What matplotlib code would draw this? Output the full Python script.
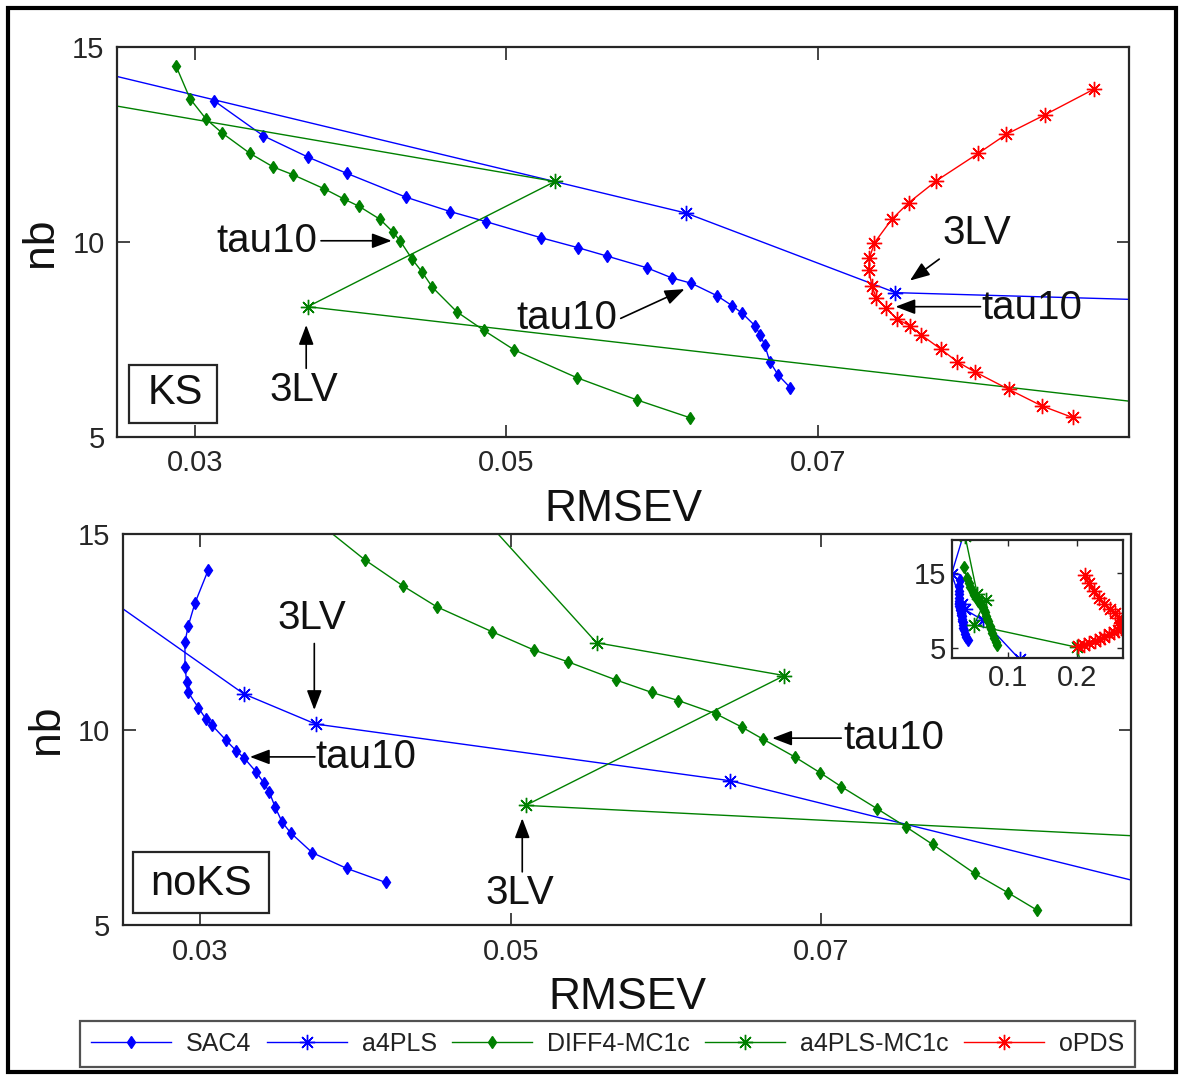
import matplotlib
matplotlib.use("Agg")
import matplotlib.pyplot as plt
from matplotlib.patches import Rectangle

plt.rcParams['font.family'] = ['Liberation Sans', 'DejaVu Sans']

# ---------------- KS (top panel) ----------------
ks_sac4_x = [0.03123, 0.03440, 0.03729, 0.03975, 0.04354, 0.04639, 0.04870, 0.05221,
             0.05463, 0.05645, 0.05901, 0.06062, 0.06189, 0.06354, 0.06449, 0.06516,
             0.06598, 0.06631, 0.06660, 0.06693, 0.06746, 0.06825]
ks_sac4_y = [13.62, 12.72, 12.17, 11.76, 11.15, 10.78, 10.52, 10.11,
             9.85, 9.64, 9.34, 9.08, 8.94, 8.62, 8.37, 8.17,
             7.85, 7.62, 7.36, 6.93, 6.59, 6.26]

ks_a4pls_x = [0.0150, 0.06155, 0.07500, 0.1100]
ks_a4pls_y = [15.20, 10.74, 8.70, 8.30]

ks_diff4_x = [0.02879, 0.02969, 0.03072, 0.03176, 0.03354, 0.03504, 0.03632, 0.03832,
              0.03958, 0.04056, 0.04189, 0.04271, 0.04318, 0.04395, 0.04461, 0.04525,
              0.04682, 0.04857, 0.05052, 0.05453, 0.05839, 0.06182]
ks_diff4_y = [14.51, 13.67, 13.15, 12.79, 12.27, 11.92, 11.72, 11.36,
              11.10, 10.91, 10.58, 10.26, 10.03, 9.56, 9.22, 8.84,
              8.21, 7.73, 7.23, 6.52, 5.95, 5.49]

ks_a4mc_x = [0.0150, 0.05313, 0.03725, 0.1100]
ks_a4mc_y = [14.17, 11.55, 8.34, 5.00]

ks_opds_x = [0.08776, 0.08460, 0.08212, 0.08031, 0.07763, 0.07586, 0.07478, 0.07365,
             0.07332, 0.07328, 0.07349, 0.07376, 0.07442, 0.07509, 0.07593, 0.07664,
             0.07792, 0.07896, 0.08009, 0.08228, 0.08438, 0.08637]
ks_opds_y = [13.92, 13.26, 12.76, 12.27, 11.57, 11.01, 10.59, 9.98,
             9.58, 9.28, 8.87, 8.56, 8.30, 8.02, 7.85, 7.62,
             7.25, 6.93, 6.67, 6.22, 5.80, 5.50]

# ---------------- noKS (bottom panel + inset) ----------------
nk_sac4_x = [0.03050, 0.02964, 0.02921, 0.02900, 0.02900, 0.02911, 0.02921, 0.02986,
             0.03035, 0.03072, 0.03164, 0.03229, 0.03282, 0.03358, 0.03411, 0.03443,
             0.03482, 0.03527, 0.03581, 0.03721, 0.03942, 0.04194]
nk_sac4_y = [14.08, 13.23, 12.65, 12.24, 11.61, 11.22, 10.95, 10.56,
             10.27, 10.12, 9.73, 9.46, 9.27, 8.92, 8.62, 8.41,
             8.01, 7.63, 7.36, 6.85, 6.45, 6.09]

nk_a4pls_x = [0.0420, 0.0185, 0.03280, 0.03743, 0.06416, 0.1170]
nk_a4pls_y = [22.00, 14.90, 10.91, 10.14, 8.69, 3.50]

nk_diff4_x = [0.0360, 0.04060, 0.04307, 0.04523, 0.04881, 0.05152, 0.05371, 0.05678,
              0.05909, 0.06082, 0.06325, 0.06492, 0.06625, 0.06832, 0.06994, 0.07132,
              0.07361, 0.07550, 0.07722, 0.07992, 0.08210, 0.08395]
nk_diff4_y = [15.80, 14.34, 13.67, 13.14, 12.50, 12.03, 11.73, 11.27,
              10.95, 10.74, 10.40, 10.06, 9.76, 9.30, 8.90, 8.54,
              7.98, 7.51, 7.06, 6.32, 5.82, 5.38]

nk_a4mc_x = [0.0380, 0.05554, 0.06765, 0.05097, 0.2000, 0.2070]
nk_a4mc_y = [19.90, 12.22, 11.38, 8.06, 5.10, 2.50]

nk_opds_x = [0.212, 0.218, 0.225, 0.232, 0.240, 0.248, 0.255, 0.261, 0.265, 0.266,
             0.264, 0.260, 0.254, 0.247, 0.240, 0.233, 0.226, 0.218, 0.210, 0.202]
nk_opds_y = [14.7, 13.6, 12.6, 11.7, 10.9, 10.2, 9.6, 9.0, 8.5, 8.1,
             7.7, 7.4, 7.1, 6.8, 6.5, 6.2, 5.9, 5.6, 5.4, 5.2]

series_names = ['SAC4', 'a4PLS', 'DIFF4-MC1c', 'a4PLS-MC1c', 'oPDS']
x_ticks = [0.03, 0.05, 0.07]
x_tick_labels = ['0.03', '0.05', '0.07']
y_ticks = [5, 10, 15]
inset_x_ticks = [0.1, 0.2]
inset_x_tick_labels = ['0.1', '0.2']
inset_y_ticks = [5, 15]

BLUE = '#0000ff'
GREEN = '#008000'
RED = '#ff0000'
ASTER = (8, 2, 0)

styles = [
    dict(color=BLUE, marker='d', markersize=6, lw=1.0),
    dict(color=BLUE, marker=ASTER, markersize=11, mew=1.0, lw=1.0),
    dict(color=GREEN, marker='d', markersize=6, lw=1.0),
    dict(color=GREEN, marker=ASTER, markersize=11, mew=1.0, lw=1.0),
    dict(color=RED, marker=ASTER, markersize=11, mew=1.0, lw=1.0),
]

fig = plt.figure(figsize=(11.81, 10.76), dpi=100)

ax1 = fig.add_axes([0.0991, 0.5939, 0.8569, 0.3625])
ax2 = fig.add_axes([0.1041, 0.1403, 0.8535, 0.3634])
axi = fig.add_axes([0.8061, 0.3885, 0.1448, 0.1097])

ks_data = [(ks_sac4_x, ks_sac4_y), (ks_a4pls_x, ks_a4pls_y), (ks_diff4_x, ks_diff4_y),
           (ks_a4mc_x, ks_a4mc_y), (ks_opds_x, ks_opds_y)]
nk_data = [(nk_sac4_x, nk_sac4_y), (nk_a4pls_x, nk_a4pls_y), (nk_diff4_x, nk_diff4_y),
           (nk_a4mc_x, nk_a4mc_y), (nk_opds_x, nk_opds_y)]

handles = []
for (x, y), st, name in zip(ks_data, styles, series_names):
    h, = ax1.plot(x, y, label=name, **st)
    handles.append(h)
for (x, y), st in zip(nk_data, styles):
    ax2.plot(x, y, **st)
for (x, y), st in zip(nk_data, styles):
    axi.plot(x, y, **st)

SPINE = '#262626'
for ax in (ax1, ax2):
    ax.set_xlim(0.025, 0.09)
    ax.set_ylim(5, 15)
    ax.set_xticks(x_ticks)
    ax.set_xticklabels(x_tick_labels)
    ax.set_yticks(y_ticks)
    ax.tick_params(direction='in', length=9, width=1.2, top=True, right=True,
                   labelsize=21, colors=SPINE, pad=9)
    for s in ax.spines.values():
        s.set_linewidth(1.6)
        s.set_color(SPINE)
    ax.set_xlabel('RMSEV', fontsize=32, labelpad=8, color='#111111')
    ax.set_ylabel('nb', fontsize=32, labelpad=8, color='#111111')

axi.set_xlim(0.019, 0.267)
axi.set_ylim(3.67, 19.4)
axi.set_xticks(inset_x_ticks)
axi.set_xticklabels(inset_x_tick_labels)
axi.set_yticks(inset_y_ticks)
axi.tick_params(direction='in', length=4, width=1.0, top=True, right=True,
                labelsize=21, colors=SPINE, pad=4)
for s in axi.spines.values():
    s.set_linewidth(1.6)
    s.set_color(SPINE)

# panel tags
for ax, txt, box, pos in [
    (ax1, 'KS', (0.0119, 0.0359, 0.0869, 0.1487), (0.0573, 0.1128)),
    (ax2, 'noKS', (0.0102, 0.0315, 0.1346, 0.1560), (0.0772, 0.1049)),
]:
    ax.add_patch(Rectangle(box[:2], box[2], box[3], transform=ax.transAxes,
                           fill=True, fc='white', ec=SPINE, lw=1.6, zorder=5))
    ax.text(pos[0], pos[1], txt, transform=ax.transAxes, ha='center', va='center',
            fontsize=30, color='#111111', zorder=6)

ARROW = dict(arrowstyle='-|>,head_length=1.0,head_width=0.38', color='black', lw=1.2,
             shrinkA=0, shrinkB=0, mutation_scale=12)
ANN_FS = 29


def note(ax, txt, tpos, tail, tip):
    ax.text(tpos[0], tpos[1], txt, fontsize=ANN_FS, ha='center', va='center',
            color='#111111', zorder=7)
    ax.annotate('', xy=tip, xytext=tail, arrowprops=ARROW, zorder=7)


# KS annotations
note(ax1, 'tau10', (0.0346, 10.03), (0.0381, 10.03), (0.04264, 10.03))
note(ax1, '3LV', (0.03701, 6.20), (0.03715, 6.76), (0.03715, 7.87))
note(ax1, 'tau10', (0.0539, 8.05), (0.05735, 8.04), (0.06145, 8.79))
note(ax1, '3LV', (0.08024, 10.24), (0.07781, 9.56), (0.07593, 9.01))
note(ax1, 'tau10', (0.08377, 8.31), (0.08046, 8.34), (0.07500, 8.34))

# noKS annotations
note(ax2, '3LV', (0.03719, 12.86), (0.03734, 12.20), (0.03734, 10.50))
note(ax2, 'tau10', (0.04067, 9.30), (0.03738, 9.30), (0.03319, 9.30))
note(ax2, '3LV', (0.05060, 5.83), (0.05075, 6.36), (0.05075, 7.73))
note(ax2, 'tau10', (0.07471, 9.78), (0.07132, 9.78), (0.06687, 9.78))

leg = fig.legend(handles=handles, loc='lower left', ncol=5, mode='expand',
                 bbox_to_anchor=(80 / 1181, 9 / 1076, 1055 / 1181, 48 / 1076),
                 fontsize=18, frameon=True, fancybox=False, edgecolor=SPINE,
                 handlelength=3.2, handletextpad=0.6, columnspacing=1.0,
                 borderaxespad=0.0, borderpad=0.45)
leg.get_frame().set_linewidth(1.6)
for t in leg.get_texts():
    t.set_color('#222222')

# outer figure frame
fig.patches.append(Rectangle((8 / 1181, 4 / 1076), 1168 / 1181, 1064 / 1076,
                             transform=fig.transFigure, fill=False, ec='black',
                             lw=3.0))

fig.savefig('out.png', dpi=100)
